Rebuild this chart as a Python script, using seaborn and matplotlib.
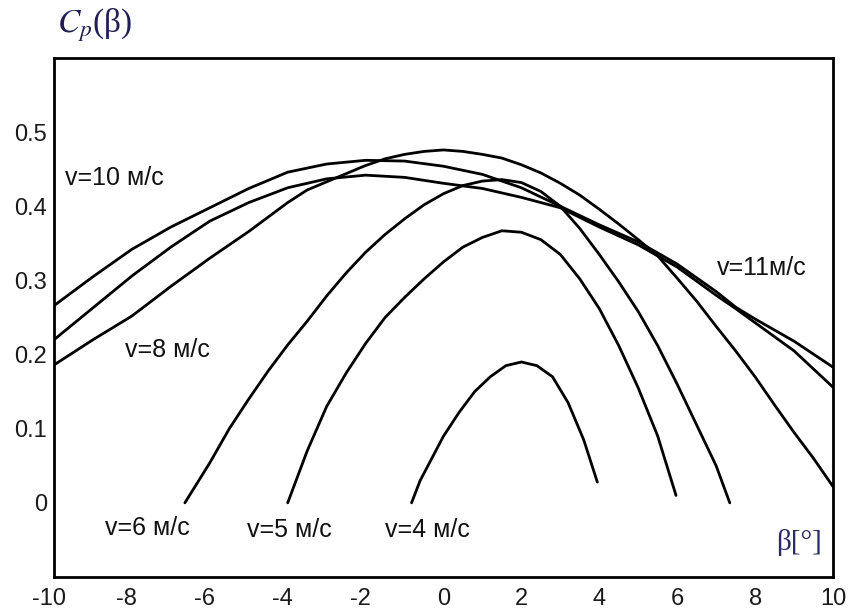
import numpy as np
import pandas as pd
import matplotlib
matplotlib.use("Agg")
import matplotlib.pyplot as plt
import matplotlib.transforms as mtransforms
import seaborn as sns

# ---- data ----
v4_x = [-0.82, -0.6, -0.36, 0.0, 0.4, 0.8, 1.2, 1.6, 2.0, 2.4, 2.8, 3.2, 3.6, 3.95]
v4_y = [0.0, 0.03, 0.054, 0.09, 0.122, 0.15, 0.17, 0.185, 0.19, 0.185, 0.17, 0.135, 0.085, 0.028]

v5_x = [-4.0, -3.5, -3.0, -2.5, -2.0, -1.5, -1.0, -0.5, 0.0, 0.5, 1.0, 1.5, 2.0, 2.5,
        3.0, 3.5, 4.0, 4.5, 5.0, 5.5, 5.97]
v5_y = [0.0, 0.07, 0.13, 0.175, 0.215, 0.25, 0.277, 0.302, 0.325, 0.345, 0.358, 0.367,
        0.365, 0.355, 0.335, 0.302, 0.262, 0.212, 0.155, 0.09, 0.01]

v6_x = [-6.64, -6.0, -5.5, -5.0, -4.5, -4.0, -3.5, -3.0, -2.5, -2.0, -1.5, -1.0, -0.5,
        0.0, 0.5, 1.0, 1.5, 2.0, 2.5, 3.0, 3.5, 4.0, 4.5, 5.0, 5.5, 6.0, 6.5, 7.0, 7.35]
v6_y = [0.0, 0.054, 0.10, 0.14, 0.178, 0.213, 0.245, 0.279, 0.31, 0.338, 0.362, 0.383,
        0.402, 0.417, 0.428, 0.434, 0.436, 0.432, 0.42, 0.40, 0.37, 0.335, 0.298, 0.258,
        0.212, 0.16, 0.105, 0.05, 0.0]

v8_x = [-10, -9, -8, -7, -6, -5, -4, -3.5, -3, -2.5, -2, -1.5, -1, -0.5, 0, 0.5, 1, 1.5,
        2, 2.5, 3, 3.5, 4, 4.5, 5, 5.5, 6, 6.5, 7, 7.5, 8, 8.5, 9, 9.5, 10]
v8_y = [0.186, 0.22, 0.252, 0.292, 0.33, 0.366, 0.405, 0.422, 0.433, 0.444, 0.455, 0.464,
        0.470, 0.474, 0.476, 0.474, 0.47, 0.465, 0.456, 0.445, 0.431, 0.415, 0.396, 0.376,
        0.355, 0.333, 0.303, 0.272, 0.238, 0.205, 0.17, 0.132, 0.095, 0.06, 0.022]

v10_x = [-10, -9, -8, -7, -6, -5, -4, -3, -2, -1, 0, 1, 2, 3, 4, 5, 6, 7, 7.5, 8, 9, 10]
v10_y = [0.266, 0.305, 0.342, 0.372, 0.398, 0.424, 0.446, 0.457, 0.462, 0.461, 0.454,
         0.443, 0.425, 0.40, 0.375, 0.352, 0.322, 0.285, 0.264, 0.248, 0.218, 0.183]

v11_x = [-10, -9, -8, -7, -6, -5, -4, -3, -2, -1, 0, 1, 2, 3, 4, 5, 6, 7, 7.5, 8, 9, 10]
v11_y = [0.22, 0.263, 0.306, 0.345, 0.38, 0.405, 0.425, 0.437, 0.442, 0.439, 0.431,
         0.424, 0.412, 0.398, 0.372, 0.348, 0.318, 0.28, 0.262, 0.243, 0.205, 0.156]

curve_names = ["v4", "v5", "v6", "v8", "v10", "v11"]
xs = [v4_x, v5_x, v6_x, v8_x, v10_x, v11_x]
ys = [v4_y, v5_y, v6_y, v8_y, v10_y, v11_y]

labels = ["v=10 м/с", "v=8 м/с", "v=6 м/с", "v=5 м/с", "v=4 м/с", "v=11м/с"]
label_x = [-9.72, -8.18, -8.69, -5.05, -1.51, 7.03]
label_y = [0.438, 0.206, -0.034, -0.036, -0.036, 0.317]

x_ticks = [-10, -8, -6, -4, -2, 0, 2, 4, 6, 8, 10]
x_ticklabels = ["-10", "-8", "-6", "-4", "-2", "0", "2", "4", "6", "8", "10"]
y_ticks = [0, 0.1, 0.2, 0.3, 0.4, 0.5]
y_ticklabels = ["0", "0.1", "0.2", "0.3", "0.4", "0.5"]

frames = []
for n, x, y in zip(curve_names, xs, ys):
    frames.append(pd.DataFrame({"beta": x, "cp": y, "curve": n}))
df = pd.concat(frames, ignore_index=True)

sns.set_theme(style="white")
plt.rcParams["font.family"] = ["Liberation Sans", "DejaVu Sans"]
plt.rcParams["mathtext.fontset"] = "stix"

fig = plt.figure(figsize=(8.5, 6.1), dpi=100)
ax = fig.add_axes([54 / 850, 1 - 577 / 610, (833 - 54) / 850, (577 - 58) / 610])

sns.lineplot(data=df, x="beta", y="cp", hue="curve", palette=["black"] * 6,
             legend=False, sort=False, estimator=None, linewidth=2.0, ax=ax)

ax.set_xlim(-10, 10)
ax.set_ylim(-0.1, 0.6)
ax.set_xticks(x_ticks)
ax.set_xticklabels(x_ticklabels)
ax.set_yticks(y_ticks)
ax.set_yticklabels(y_ticklabels)
ax.set_xlabel("")
ax.set_ylabel("")
ax.tick_params(direction="in", length=6, width=1.3, labelsize=17,
               colors="#1a1a1a")
ax.tick_params(axis="x", pad=8)
ax.tick_params(axis="y", pad=5)
for s in ax.spines.values():
    s.set_visible(True)
    s.set_linewidth(2.0)
    s.set_color("black")

# negative labels: digits centred on the tick, minus sign hanging to the left
offset = mtransforms.ScaledTranslation(-5 / 100, 0, fig.dpi_scale_trans)
for lbl in ax.get_xticklabels():
    if lbl.get_text().startswith("-"):
        lbl.set_transform(lbl.get_transform() + offset)

for t, lx, ly in zip(labels, label_x, label_y):
    ax.text(lx, ly, t, fontsize=18, color="#111111", ha="left", va="center")

ax.text(9.72, -0.054, "β[°]", fontsize=21, color="#2a2a66", ha="right",
        va="center", family=["Liberation Serif", "DejaVu Serif"])

fig.text(57 / 850, 1 - 33 / 610, r"$C_p$(β)", fontsize=24, color="#1f1f55",
         ha="left", va="baseline", family=["Liberation Serif", "DejaVu Serif"])

fig.savefig("out.png", dpi=100)
